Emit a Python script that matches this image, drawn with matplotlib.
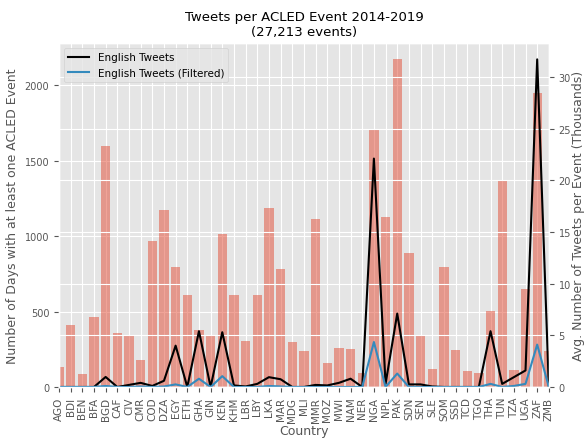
import numpy as np
import matplotlib
matplotlib.use("Agg")
import matplotlib.pyplot as plt

plt.style.use("ggplot")

# Country codes
countries = ["AGO", "BDI", "BEN", "BFA", "BGD", "CAF", "CIV", "CMR", "COD", "DZA",
             "EGY", "ETH", "GHA", "GIN", "KEN", "KHM", "LBR", "LBY", "LKA", "MAR",
             "MDG", "MLI", "MMR", "MOZ", "MWI", "NAM", "NER", "NGA", "NPL", "PAK",
             "SDN", "SEN", "SLE", "SOM", "SSD", "TCD", "TGO", "THA", "TUN", "TZA",
             "UGA", "ZAF", "ZMB"]

# Number of days with at least one ACLED event
event_days = [135, 410, 86, 462, 1600, 358, 340, 180, 970, 1175,
              797, 612, 377, 340, 1015, 608, 308, 608, 1185, 780,
              298, 236, 1112, 156, 258, 250, 92, 1710, 1125, 2172,
              890, 340, 118, 795, 245, 107, 96, 504, 1370, 111,
              648, 1952, 240]

# Avg. tweets per event (thousands)
english_tweets = [0, 0, 0, 0, 0.97, 0, 0.2, 0.4, 0.1, 0.6,
                  4.0, 0, 5.4, 0, 5.3, 0.15, 0.05, 0.3, 0.95, 0.75,
                  0, 0, 0.2, 0.15, 0.4, 0.8, 0, 22.1, 0.3, 7.1,
                  0.25, 0.25, 0.05, 0, 0, 0, 0, 5.4, 0.3, 0.95,
                  1.6, 31.7, 0]
english_filtered = [0, 0, 0, 0, 0.1, 0, 0, 0.05, 0, 0.05,
                    0.25, 0, 0.8, 0, 1.05, 0, 0, 0, 0.1, 0.05,
                    0, 0, 0, 0, 0, 0, 0, 4.35, 0, 1.3,
                    0, 0, 0, 0, 0, 0, 0, 0.3, 0, 0.1,
                    0.3, 4.1, 0]

x = np.arange(len(countries))

fig, ax1 = plt.subplots(figsize=(5.87, 4.39), dpi=100)
fig.subplots_adjust(left=0.1005, right=0.935, top=0.8998, bottom=0.1162)

ax1.bar(x, event_days, color="#E24A33", alpha=0.5)
ax1.set_xticks(x)
ax1.set_xticklabels(countries, rotation=90, fontsize=7.5)
ax1.tick_params(axis="y", labelsize=7)
ax1.set_xlabel("Country", fontsize=9, labelpad=2)
ax1.set_ylabel("Number of Days with at least one ACLED Event", fontsize=9)
ax1.set_xlim(0, len(countries) - 1)

ax2 = ax1.twinx()
ax2.plot(x, english_tweets, color="k", lw=1.5, label="English Tweets")
ax2.plot(x, english_filtered, color="#348ABD", lw=1.5, label="English Tweets (Filtered)")
ax2.set_ylim(bottom=0)
ax2.tick_params(axis="y", labelsize=7)
ax2.set_ylabel("Avg. Number of Tweets per Event (Thousands)", fontsize=9, labelpad=1)
ax2.legend(loc="upper left", fontsize=7.5)

ax1.set_title("Tweets per ACLED Event 2014-2019\n(27,213 events)", fontsize=9.5)

plt.savefig("out.png", dpi=100)
